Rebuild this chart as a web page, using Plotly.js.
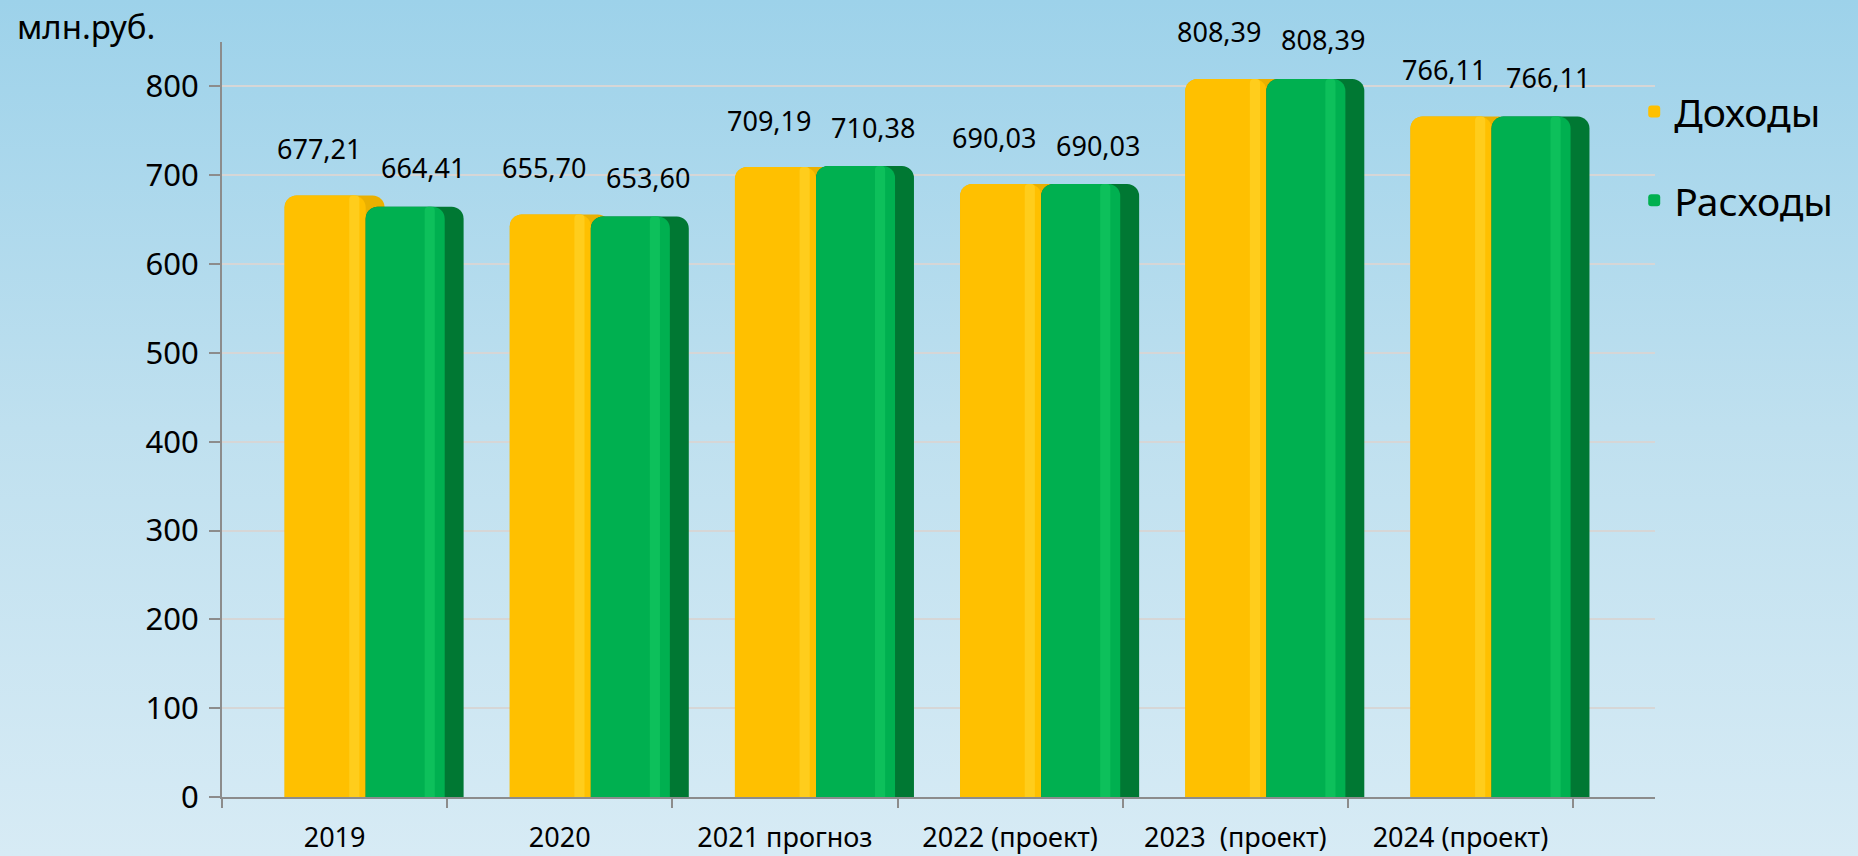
<!DOCTYPE html>
<html>
<head>
<meta charset="utf-8">
<script src="https://cdn.plot.ly/plotly-3.0.1.min.js"></script>
<style>
  html, body { margin: 0; padding: 0; width: 1858px; height: 856px; overflow: hidden;
    background: linear-gradient(to bottom, #9dd2ea 0%, #bfe0ef 50%, #d7ebf5 100%); }
  #chart { width: 1858px; height: 856px; }
</style>
</head>
<body>
<div id="chart"></div>
<script>
// ---- data ----
const categories = ['2019', '2020', '2021 прогноз', '2022 (проект)', '2023  (проект)', '2024 (проект)'];
const incomes  = [677.21, 655.70, 709.19, 690.03, 808.39, 766.11];   // Доходы
const expenses = [664.41, 653.60, 710.38, 690.03, 808.39, 766.11];   // Расходы
const seriesNames = ['Доходы', 'Расходы'];
const yAxisUnit = 'млн.руб.';
const yTickValues = [0, 100, 200, 300, 400, 500, 600, 700, 800];

// ---- styles ----
const FONT = 'Noto Sans, Open Sans, DejaVu Sans, sans-serif';
const fmt = v => v.toFixed(2).replace('.', ',');

function barTrace(values, name, color, offset, width, radius, opts) {
  return Object.assign({
    type: 'bar', x: categories, y: values, name: name,
    offset: offset, width: width,
    marker: { color: color, cornerradius: radius, line: { width: 0 } },
    hoverinfo: 'skip', showlegend: false
  }, opts || {});
}

const traces = [
  // Доходы: depth, face, highlight
  barTrace(incomes, seriesNames[0], '#eab000', -0.222, 0.444, 12),
  barTrace(incomes, seriesNames[0], '#ffc000', -0.222, 0.36, 12, { showlegend: true, legendgroup: 'd' }),
  barTrace(incomes, seriesNames[0], '#ffcd1c', 0.065, 0.045, 4),
  // Расходы: depth, face, highlight
  barTrace(expenses, seriesNames[1], '#007833', 0.138, 0.435, 12),
  barTrace(expenses, seriesNames[1], '#00b050', 0.138, 0.351, 12, { showlegend: true, legendgroup: 'r' }),
  barTrace(expenses, seriesNames[1], '#0dc05b', 0.40, 0.045, 4)
];

// data labels anchored to values
const annotations = [];
categories.forEach((c, i) => {
  annotations.push({ x: i, y: incomes[i], xref: 'x', yref: 'y', text: fmt(incomes[i]),
    showarrow: false, xshift: -16, yshift: 47, font: { family: FONT, size: 27, color: '#000' } });
  annotations.push({ x: i, y: expenses[i], xref: 'x', yref: 'y', text: fmt(expenses[i]),
    showarrow: false, xshift: 88, yshift: 39, font: { family: FONT, size: 27, color: '#000' } });
});
annotations.push({ xref: 'paper', yref: 'paper', x: -0.1445, y: 1.02, xanchor: 'left', yanchor: 'middle',
  text: yAxisUnit, showarrow: false, font: { family: FONT, size: 33, color: '#000' } });

const layout = {
  width: 1858, height: 856,
  margin: { l: 222, r: 203, t: 42, b: 59, pad: 0 },
  paper_bgcolor: 'rgba(0,0,0,0)', plot_bgcolor: 'rgba(0,0,0,0)',
  barmode: 'overlay',
  font: { family: FONT, color: '#000' },
  xaxis: {
    type: 'category', range: [-0.5, 5.864], fixedrange: true,
    showline: true, linecolor: '#8c8c8c', linewidth: 2,
    ticks: 'outside', tickson: 'boundaries', ticklen: 9, tickwidth: 2, tickcolor: '#8c8c8c',
    showgrid: false, zeroline: false,
    tickfont: { family: FONT, size: 27, color: '#000' }, ticklabelstandoff: 16
  },
  yaxis: {
    range: [0, 850], tickvals: yTickValues, fixedrange: true,
    showline: true, linecolor: '#8c8c8c', linewidth: 2,
    ticks: 'outside', ticklen: 11, tickwidth: 2, tickcolor: '#8c8c8c',
    showgrid: true, gridcolor: '#d6d6d6', gridwidth: 2, zeroline: false,
    tickfont: { family: FONT, size: 31, color: '#000' }, ticklabelstandoff: 4
  },
  legend: {
    x: 0.9855, xanchor: 'left', y: 0.95, yanchor: 'top',
    traceorder: 'grouped', tracegroupgap: 35,
    bgcolor: 'rgba(0,0,0,0)', borderwidth: 0,
    font: { family: FONT, size: 39, color: '#000' }
  },
  annotations: annotations,
  showlegend: true
};

Plotly.newPlot('chart', traces, layout, { displayModeBar: false, staticPlot: true });
</script>
</body>
</html>
